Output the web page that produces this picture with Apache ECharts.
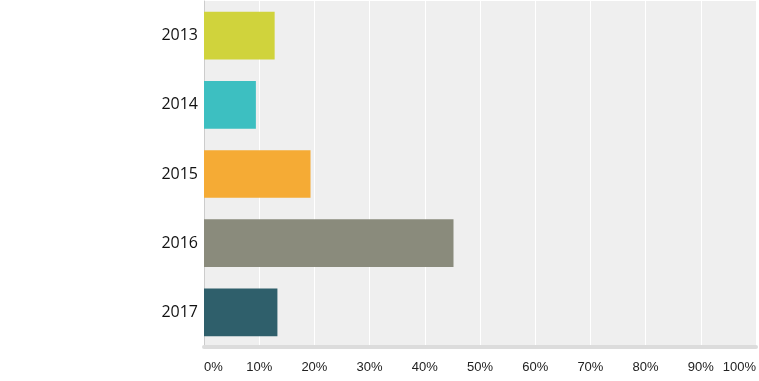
<!DOCTYPE html>
<html><head><meta charset="utf-8">
<script src="https://cdn.jsdelivr.net/npm/echarts@6/dist/echarts.min.js"></script>
<style>html,body{margin:0;padding:0;background:#fff}#c{width:759px;height:381px}</style>
</head><body><div id="c"></div>
<script>
const categories = ['2013','2014','2015','2016','2017'];
const values = [12.8, 9.4, 19.3, 45.2, 13.3];
const colors = ['#d0d33c','#3dbfc1','#f5ab35','#8a8b7c','#2f5f6b'];
const tickValues = [0,10,20,30,40,50,60,70,80,90,100];

const chart = echarts.init(document.getElementById('c'));
chart.setOption({
  animation: false,
  backgroundColor: '#fff',
  grid: {left: 204, right: 0, top: 1, height: 346, show: true, backgroundColor: '#efefef', borderWidth: 0},
  xAxis: {
    type: 'value', min: tickValues[0], max: tickValues[tickValues.length-1], interval: 10,
    axisLine: {show: true, lineStyle: {color: '#dcdcdc', width: 4}},
    axisTick: {show: false},
    splitLine: {show: true, lineStyle: {color: '#ffffff', width: 1}},
    axisLabel: {formatter: '{value}%', color: '#222', fontFamily: 'Liberation Sans, Arial', fontSize: 13, margin: 14, alignMinLabel: 'left', alignMaxLabel: 'right'}
  },
  yAxis: {
    type: 'category', data: categories, inverse: true,
    axisLine: {show: true, lineStyle: {color: '#cccccc', width: 1}},
    axisTick: {show: false},
    axisLabel: {color: '#111', fontFamily: 'Open Sans, DejaVu Sans', fontSize: 16, margin: 6}
  },
  series: [{
    type: 'bar', barCategoryGap: '31%',
    data: values.map((v, i) => ({value: v, itemStyle: {color: colors[i]}}))
  }]
});
</script></body></html>
